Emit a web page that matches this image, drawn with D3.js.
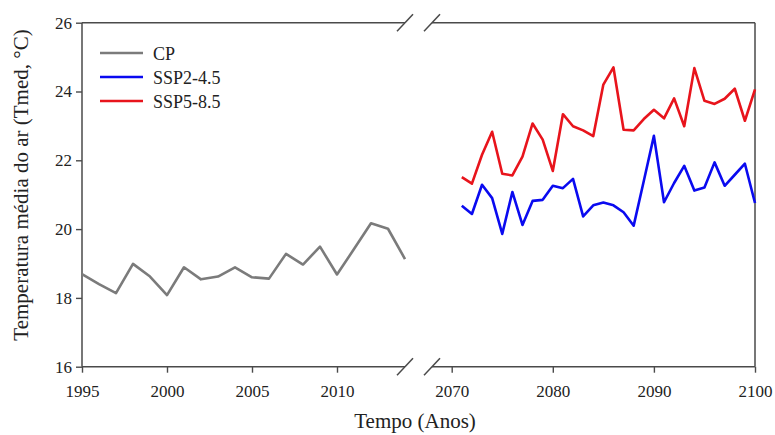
<!DOCTYPE html>
<html>
<head>
<meta charset="utf-8">
<script src="https://cdn.jsdelivr.net/npm/d3@7"></script>
<style>
  body { margin: 0; background: #fff; }
  svg text { font-family: "Liberation Serif", "Times New Roman", serif; fill: #222; }
</style>
</head>
<body>
<div id="viz"></div>
<script>
const width = 775;
const height = 435;

// Data
const cpYears = [1995, 1996, 1997, 1998, 1999, 2000, 2001, 2002, 2003, 2004,
                 2005, 2006, 2007, 2008, 2009, 2010, 2011, 2012, 2013, 2014];
const cpValues = [18.69, 18.40, 18.14, 18.99, 18.62, 18.08, 18.89, 18.54, 18.62, 18.89,
                  18.60, 18.56, 19.28, 18.97, 19.49, 18.68, 19.42, 20.17, 20.01, 19.13];

const futureYears = [2071, 2072, 2073, 2074, 2075, 2076, 2077, 2078, 2079, 2080,
                     2081, 2082, 2083, 2084, 2085, 2086, 2087, 2088, 2089, 2090,
                     2091, 2092, 2093, 2094, 2095, 2096, 2097, 2098, 2099, 2100];
const ssp245 = [20.68, 20.44, 21.29, 20.90, 19.86, 21.08, 20.12, 20.82, 20.85, 21.26,
                21.19, 21.46, 20.37, 20.69, 20.77, 20.69, 20.49, 20.10, 21.40, 22.71,
                20.78, 21.34, 21.84, 21.12, 21.21, 21.94, 21.26, 21.58, 21.90, 20.76];
const ssp585 = [21.51, 21.32, 22.16, 22.83, 21.61, 21.56, 22.11, 23.07, 22.60, 21.69,
                23.34, 22.99, 22.87, 22.70, 24.20, 24.70, 22.89, 22.87, 23.20, 23.47,
                23.22, 23.80, 22.99, 24.68, 23.73, 23.64, 23.79, 24.08, 23.15, 24.06];

const leftTicks = [1995, 2000, 2005, 2010];
const rightTicks = [2070, 2080, 2090, 2100];
const yTicks = [16, 18, 20, 22, 24, 26];

const seriesNames = ['CP', 'SSP2-4.5', 'SSP5-8.5'];
const seriesColors = ['#7b7b7b', '#0a0af0', '#e8141c'];

const axisColor = '#4a4a4a';
const serif = '"Liberation Serif", "Times New Roman", serif';

// Layout
const plotTop = 22.7;
const plotBottom = 366.7;
const leftStart = 82;
const leftEnd = 405;
const rightStart = 432;
const rightEnd = 755;

const svg = d3.select('#viz')
  .append('svg')
    .attr('width', width)
    .attr('height', height);

// Scales
const yScale = d3.scaleLinear()
  .domain([16, 26])
  .range([plotBottom, plotTop]);
const xLeft = d3.scaleLinear()
  .domain([1995, 2014])
  .range([leftStart, leftEnd]);
const xRight = d3.scaleLinear()
  .domain([2070, 2100])
  .range([451.7, rightEnd]);

// Y axis
const yAxisGroup = svg.append('g')
  .attr('transform', `translate(${leftStart},0)`)
  .call(d3.axisLeft(yScale).tickValues(yTicks).tickSize(6).tickSizeOuter(0).tickPadding(4));

// X axes (ticks only, frame lines drawn below)
const xLeftGroup = svg.append('g')
  .attr('transform', `translate(0,${plotBottom})`)
  .call(d3.axisBottom(xLeft).tickValues(leftTicks).tickFormat(d3.format('d')).tickSize(6).tickSizeOuter(0).tickPadding(12));
const xRightGroup = svg.append('g')
  .attr('transform', `translate(0,${plotBottom})`)
  .call(d3.axisBottom(xRight).tickValues(rightTicks).tickFormat(d3.format('d')).tickSize(6).tickSizeOuter(0).tickPadding(12));

[yAxisGroup, xLeftGroup, xRightGroup].forEach(g => {
  g.attr('font-family', serif).attr('font-size', 17);
  g.select('.domain').remove();
  g.selectAll('.tick line').attr('stroke', axisColor).attr('stroke-width', 1.4);
  g.selectAll('.tick text')
    .style('font-family', serif)
    .style('font-size', '17px')
    .attr('fill', '#222');
});

// Frame lines
const frame = svg.append('g')
  .attr('stroke', axisColor)
  .attr('stroke-width', 1.5)
  .attr('fill', 'none');
frame.append('line').attr('x1', leftStart).attr('x2', leftStart).attr('y1', plotTop).attr('y2', plotBottom);
frame.append('line').attr('x1', leftStart).attr('x2', leftEnd).attr('y1', plotTop).attr('y2', plotTop);
frame.append('line').attr('x1', leftStart).attr('x2', leftEnd).attr('y1', plotBottom).attr('y2', plotBottom);
frame.append('line').attr('x1', rightStart).attr('x2', rightEnd).attr('y1', plotTop).attr('y2', plotTop);
frame.append('line').attr('x1', rightStart).attr('x2', rightEnd).attr('y1', plotBottom).attr('y2', plotBottom);
frame.append('line').attr('x1', rightEnd).attr('x2', rightEnd).attr('y1', plotTop).attr('y2', plotBottom);

// Axis break marks
[leftEnd, rightStart].forEach(x => {
  [plotTop, plotBottom].forEach(y => {
    frame.append('line')
      .attr('x1', x - 8).attr('y1', y + 8.5)
      .attr('x2', x + 8).attr('y2', y - 8.5);
  });
});

// Lines
const lineLeft = d3.line()
  .x(d => xLeft(d[0]))
  .y(d => yScale(d[1]));
const lineRight = d3.line()
  .x(d => xRight(d[0]))
  .y(d => yScale(d[1]));

const lines = svg.append('g')
  .attr('fill', 'none')
  .attr('stroke-width', 2.6)
  .attr('stroke-linejoin', 'round');
lines.append('path')
  .attr('d', lineLeft(d3.zip(cpYears, cpValues)))
  .attr('stroke', seriesColors[0]);
lines.append('path')
  .attr('d', lineRight(d3.zip(futureYears, ssp245)))
  .attr('stroke', seriesColors[1]);
lines.append('path')
  .attr('d', lineRight(d3.zip(futureYears, ssp585)))
  .attr('stroke', seriesColors[2]);

// Legend
const legend = svg.append('g')
  .attr('transform', 'translate(100,53)');
legend.selectAll('line')
  .data(seriesNames)
  .join('line')
    .attr('x1', 0)
    .attr('x2', 43)
    .attr('y1', (d, i) => i * 24)
    .attr('y2', (d, i) => i * 24)
    .attr('stroke', (d, i) => seriesColors[i])
    .attr('stroke-width', 2.6);
legend.selectAll('text')
  .data(seriesNames)
  .join('text')
    .attr('x', 53)
    .attr('y', (d, i) => i * 24 + 6.5)
    .style('font-size', '18px')
    .text(d => d);

// Axis titles
svg.append('text')
  .attr('x', 415)
  .attr('y', 428)
  .attr('text-anchor', 'middle')
  .style('font-size', '21px')
  .text('Tempo (Anos)');
svg.append('text')
  .attr('transform', 'translate(28,185) rotate(-90)')
  .attr('text-anchor', 'middle')
  .style('font-size', '21px')
  .text('Temperatura média do ar (Tmed, °C)');
</script>
</body>
</html>
